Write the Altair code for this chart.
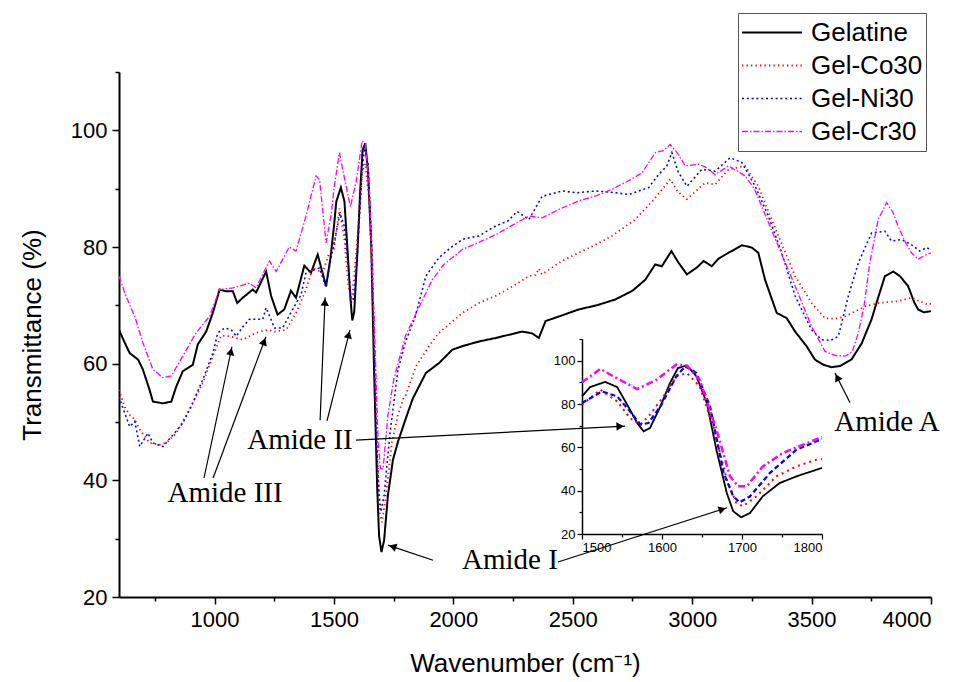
import math
import altair as alt
import pandas as pd

# ---------------- data ----------------
names = ["Gelatine", "Gel-Co30", "Gel-Ni30", "Gel-Cr30"]
colors = ["#000000", "#ff0000", "#0000ff", "#ff00ff"]

gel_wn = [600, 624, 645, 680, 700, 728, 742, 784, 819, 840, 867, 909, 930, 965, 993, 1021, 1049, 1077, 1095,
          1118, 1160, 1174, 1216, 1237, 1264, 1292, 1320, 1341, 1376, 1404, 1432, 1467, 1485,
          1500, 1510, 1529, 1544, 1560, 1569, 1577, 1585, 1598, 1610, 1620, 1631, 1643, 1656, 1668, 1681,
          1689, 1699, 1710, 1726, 1747, 1768, 1800,
          1830, 1885, 1940, 1996, 2038, 2107, 2177, 2288, 2330, 2358, 2386, 2450, 2525, 2600, 2678, 2750,
          2804, 2845, 2873, 2913, 2943, 2978, 3020, 3048, 3082, 3110, 3152, 3208, 3250, 3277, 3305, 3354,
          3396, 3431, 3479, 3514, 3550, 3584, 3620, 3667, 3710, 3751, 3780, 3807, 3842, 3870, 3904, 3930,
          3946, 3970, 4000]
gel_t = [65.8, 63.6, 61.8, 60.7, 59.0, 55.5, 53.5, 53.2, 53.5, 56.1, 58.7, 59.8, 63.3, 65.5, 68.7, 72.7, 72.4,
         72.4, 70.4, 71.3, 72.7, 72.2, 75.8, 71.6, 68.4, 69.3, 72.5, 71.3, 76.8, 75.6, 78.7, 73.3, 78.0,
         83.5, 87.8, 90.2, 87.8, 77.4, 71.2, 67.4, 68.9, 78.9, 89.7, 96.6, 97.8, 92.8, 80.5, 58.9, 38.9,
         30.5, 27.7, 29.7, 37.4, 43.5, 46.6, 50.5,
         54.0, 58.4, 60.1, 62.4, 63.0, 63.8, 64.4, 65.5, 65.2, 64.4, 67.3, 68.2, 69.3, 70.0, 71.0, 72.5,
         74.4, 77.0, 76.7, 79.3, 77.3, 75.3, 76.5, 77.6, 76.7, 78.0, 79.0, 80.3, 79.9, 79.0, 74.4, 68.7,
         67.8, 65.5, 63.0, 60.7, 59.8, 59.4, 59.6, 60.7, 63.5, 67.6, 71.5, 75.0, 75.8, 75.0, 73.3, 70.5,
         69.3, 68.8, 69.0]

co_wn = [600, 625, 645, 665, 687, 728, 770, 800, 840, 895, 951, 993, 1028, 1063, 1118, 1174, 1223, 1251,
         1300, 1341, 1383, 1411, 1453, 1480,
         1500, 1523, 1544, 1560, 1573, 1585, 1602, 1618, 1631, 1647, 1664, 1681, 1693, 1701, 1718, 1743,
         1768, 1793, 1800,
         1843, 1898, 1940, 2038, 2107, 2177, 2250, 2316, 2345, 2358, 2370, 2450, 2525, 2600, 2664, 2761,
         2845, 2908, 2940, 2978, 3054, 3096, 3152, 3222, 3277, 3320, 3361, 3431, 3500, 3556, 3600, 3640,
         3723, 3779, 3862, 3918, 3988, 4000]
co_t = [55.5, 52.5, 51.2, 50.5, 48.7, 46.4, 46.1, 46.5, 48.1, 52.1, 56.7, 61.3, 64.8, 64.7, 64.1, 65.3,
        65.8, 65.5, 65.8, 68.7, 72.7, 76.4, 75.6, 79.0,
        79.7, 86.6, 81.2, 73.5, 70.5, 75.1, 83.5, 92.8, 94.3, 88.2, 69.7, 45.1, 34.3, 32.8, 37.4, 46.6,
        51.2, 54.3, 54.5,
        59.5, 63.0, 65.3, 68.7, 70.4, 71.6, 73.3, 75.0, 75.2, 76.3, 75.3, 77.5, 79.0, 80.5, 81.9, 84.7,
        88.4, 91.6, 89.5, 88.2, 91.0, 90.7, 93.3, 93.9, 90.4, 86.0, 81.9, 75.0, 70.4, 67.8, 67.7, 68.1,
        69.8, 70.4, 70.7, 71.3, 70.1, 70.3]

ni_wn = [600, 624, 645, 666, 687, 705, 721, 742, 784, 826, 867, 909, 951, 993, 1014, 1042, 1070, 1091, 1118,
         1146, 1202, 1216, 1251, 1285, 1327, 1362, 1383, 1439, 1467, 1485,
         1500, 1525, 1544, 1560, 1573, 1583, 1598, 1618, 1629, 1643, 1660, 1677, 1689, 1697, 1710, 1735,
         1768, 1800,
         1840, 1885, 1940, 1996, 2038, 2107, 2177, 2230, 2267, 2316, 2372, 2455, 2520, 2594, 2660, 2735,
         2818, 2859, 2894, 2915, 2940, 2978, 3040, 3096, 3159, 3208, 3264, 3319, 3375, 3431, 3500, 3542,
         3580, 3612, 3654, 3696, 3751, 3807, 3835, 3876, 3918, 3953, 3981, 4000]
ni_t = [54.3, 51.5, 49.2, 50.1, 45.8, 47.0, 48.1, 46.4, 45.8, 47.8, 49.8, 53.3, 57.3, 61.8, 65.3, 66.1, 65.8,
        64.7, 66.3, 67.6, 67.6, 69.6, 66.1, 66.1, 69.3, 71.8, 75.6, 76.4, 73.0, 77.5,
        80.5, 85.8, 83.5, 76.6, 70.5, 71.2, 78.9, 92.8, 97.4, 94.3, 78.9, 48.2, 37.4, 34.6, 37.4, 48.2,
        58.9, 63.8,
        68.0, 75.0, 78.2, 80.1, 81.3, 81.9, 83.6, 84.5, 86.1, 84.7, 88.7, 89.6, 89.3, 89.6, 89.4, 89.0,
        90.2, 92.4, 93.9, 96.2, 93.0, 90.4, 93.3, 93.0, 95.3, 94.5, 90.4, 85.3, 79.0, 71.6, 65.8, 64.1,
        64.0, 64.7, 71.6, 77.3, 82.4, 82.7, 81.0, 81.3, 80.4, 79.3, 79.9, 79.5]

cr_wn = [600, 630, 666, 700, 742, 784, 819, 867, 923, 979, 1021, 1077, 1146, 1174, 1216, 1230, 1258, 1313,
         1341, 1383, 1425, 1440, 1467, 1490,
         1500, 1523, 1539, 1569, 1593, 1618, 1631, 1647, 1668, 1685, 1695, 1706, 1726, 1751, 1800,
         1860, 1912, 1960, 2038, 2107, 2177, 2250, 2316, 2372, 2450, 2525, 2600, 2664, 2740, 2790, 2846,
         2880, 2908, 2940, 2971, 3027, 3060, 3096, 3152, 3222, 3260, 3291, 3361, 3431, 3500, 3556, 3600,
         3640, 3670, 3696, 3720, 3744, 3779, 3814, 3840, 3862, 3890, 3918, 3946, 3981, 4000]
cr_t = [75.0, 71.5, 68.1, 63.6, 59.0, 57.6, 57.9, 61.3, 65.3, 68.1, 72.7, 73.0, 73.8, 73.0, 76.5, 77.6, 75.8,
        80.0, 79.3, 85.3, 92.2, 91.5, 80.7, 86.0,
        90.0, 96.2, 92.8, 86.9, 91.2, 98.2, 97.7, 91.2, 68.2, 46.6, 42.0, 42.0, 51.2, 57.4, 64.8,
        70.0, 74.4, 77.0, 79.6, 80.8, 82.1, 83.8, 85.3, 85.0, 86.6, 87.9, 88.8, 89.9, 91.5, 92.7, 96.2,
        96.5, 97.6, 96.0, 93.9, 94.2, 93.6, 92.4, 93.9, 92.2, 90.0, 87.0, 80.1, 73.3, 66.4, 62.1, 61.4,
        61.3, 62.0, 65.3, 70.0, 77.3, 84.7, 87.6, 86.0, 83.6, 81.0, 79.0, 77.9, 78.7, 79.0]

# annotations (data coordinates of the main plot)
ann_labels = ["Amide III", "Amide II", "Amide I", "Amide A"]
ann_x = [1044, 1358, 2237, 3816]
ann_y = [37.8, 46.9, 26.3, 50.0]

arrow_x1 = [956, 994, 1442, 1471, 1592, 1915, 2438, 3661]
arrow_y1 = [40.4, 40.4, 50.3, 50.2, 46.9, 26.3, 26.0, 53.3]
arrow_x2 = [1073, 1215, 1463, 1567, 2719, 1726, 3146, 3598]
arrow_y2 = [62.9, 64.6, 71.4, 65.8, 49.3, 28.9, 35.3, 58.4]

# ---------------- tables ----------------
series = [(names[0], gel_wn, gel_t), (names[1], co_wn, co_t), (names[2], ni_wn, ni_t), (names[3], cr_wn, cr_t)]
rows = []
for nm, wn, tt in series:
    for a, b in zip(wn, tt):
        rows.append({"series": nm, "wn": a, "t": b})
df = pd.DataFrame(rows)
inset_df = df[(df.wn >= 1500) & (df.wn <= 1800)]

W, H = 812, 525
XD, YD = [600, 4000], [20, 110]
kx = W / (XD[1] - XD[0])
ky = H / (YD[1] - YD[0])

arr_rows = []
for x1, y1, x2, y2 in zip(arrow_x1, arrow_y1, arrow_x2, arrow_y2):
    dxp = (x2 - x1) * kx
    dyp = -(y2 - y1) * ky
    L = math.hypot(dxp, dyp)
    ang = math.degrees(math.atan2(dxp, -dyp)) % 360
    back = 5.0
    hx = x2 - dxp / L * back / kx
    hy = y2 + dyp / L * back / ky
    arr_rows.append({"wn": x1, "t": y1, "wn2": x2, "t2": y2, "hx": hx, "hy": hy, "ang": ang})
arr_df = pd.DataFrame(arr_rows)
ann_df = pd.DataFrame({"label": ann_labels, "wn": ann_x, "t": ann_y})

SANS = "Liberation Sans"
SERIF = "Liberation Serif"

leg = alt.Legend(title=None, orient="none", legendX=619, legendY=-59, symbolType="stroke",
                 symbolSize=3600, symbolStrokeWidth=2, labelFontSize=26, labelFont=SANS,
                 labelColor="black", strokeColor="#555555", fillColor="white", padding=3,
                 rowPadding=0, clipHeight=33, labelOffset=8, labelLimit=300)

color = alt.Color("series:N", scale=alt.Scale(domain=names, range=colors), legend=leg)
dash = alt.StrokeDash("series:N", scale=alt.Scale(domain=names, range=[[1, 0], [1.3, 3.2], [2, 2.8], [6, 2, 1.5, 2]]), legend=leg)
width = alt.StrokeWidth("series:N", scale=alt.Scale(domain=names, range=[2, 1.3, 2.3, 2.4]), legend=None)

XTITLE = "Wavenumber (cm⁻¹)"
YTITLE = "Transmittance (%)"
x_main = alt.X("wn:Q", scale=alt.Scale(domain=XD, nice=False, zero=False), title=XTITLE,
               axis=alt.Axis(values=[750, 1000, 1250, 1500, 1750, 2000, 2250, 2500, 2750, 3000, 3250, 3500, 3750, 4000],
                             format="d", labelExpr="datum.value % 500 === 0 ? datum.label : ''",
                             tickSize={"condition": {"test": "datum.value % 500 === 0", "value": 7}, "value": 4},
                             grid=False, domainColor="black", domainWidth=2, tickColor="black", tickWidth=1.5,
                             labelFont=SANS, labelFontSize=22, labelColor="black", labelPadding=5,
                             titleFont=SANS, titleFontSize=26, titleFontWeight="normal",
                             titleColor="black", titlePadding=20, labelOverlap=False))
y_main = alt.Y("t:Q", scale=alt.Scale(domain=YD, nice=False, zero=False), title=YTITLE,
               axis=alt.Axis(values=[20, 30, 40, 50, 60, 70, 80, 90, 100, 110],
                             labelExpr="datum.value % 20 === 0 ? datum.label : ''",
                             tickSize={"condition": {"test": "datum.value % 20 === 0", "value": 7}, "value": 4},
                             grid=False, domainColor="black", domainWidth=2, tickColor="black", tickWidth=1.5,
                             labelFont=SANS, labelFontSize=22, labelColor="black", labelPadding=5,
                             titleFont=SANS, titleFontSize=26, titleFontWeight="normal",
                             titleColor="black", titlePadding=25, labelOverlap=False))

main_lines = alt.Chart(df).mark_line(clip=True).encode(x=x_main, y=y_main, color=color, strokeDash=dash,
                                                      strokeWidth=width, order=alt.Order("wn:Q"))

arrows = alt.Chart(arr_df).mark_rule(color="black", strokeWidth=1.2).encode(
    x=alt.X("wn:Q", title=XTITLE), y=alt.Y("t:Q", title=YTITLE), x2="wn2:Q", y2="t2:Q")
heads = alt.Chart(arr_df).mark_point(shape="triangle-up", filled=True, color="black", opacity=1, size=70).encode(
    x=alt.X("hx:Q", title=XTITLE), y=alt.Y("hy:Q", title=YTITLE), angle=alt.Angle("ang:Q", scale=None))
texts = alt.Chart(ann_df).mark_text(font=SERIF, fontSize=29, color="black", baseline="middle", align="center").encode(
    x=alt.X("wn:Q", title=XTITLE), y=alt.Y("t:Q", title=YTITLE), text="label:N")

main = alt.layer(main_lines, arrows, heads, texts)

# ---------------- inset ----------------
IX0, IX1 = 463, 703
IY0, IY1 = 462, 267
x_in = alt.X("wn:Q", scale=alt.Scale(domain=[1500, 1800], range=[IX0, IX1], nice=False, zero=False),
             axis=alt.Axis(orient="bottom", offset=-(H - IY0), values=[1500, 1550, 1600, 1650, 1700, 1750, 1800],
                           format="d", labelExpr="datum.value % 100 === 0 ? datum.label : ''",
                           tickSize={"condition": {"test": "datum.value % 100 === 0", "value": 5}, "value": 3},
                           grid=False, domainColor="black", domainWidth=1.5, tickColor="black", tickWidth=1.2,
                           labelFont=SANS, labelFontSize=13, labelColor="black", labelPadding=2, title=None,
                           labelOverlap=False))
y_in = alt.Y("t:Q", scale=alt.Scale(domain=[20, 110], range=[IY0, IY1], nice=False, zero=False),
             axis=alt.Axis(orient="left", offset=-IX0, values=[20, 30, 40, 50, 60, 70, 80, 90, 100, 110],
                           labelExpr="datum.value % 20 === 0 ? datum.label : ''",
                           tickSize={"condition": {"test": "datum.value % 20 === 0", "value": 5}, "value": 3},
                           grid=False, domainColor="black", domainWidth=1.5, tickColor="black", tickWidth=1.2,
                           labelFont=SANS, labelFontSize=13, labelColor="black", labelPadding=2, title=None,
                           labelOverlap=False))
in_dash = alt.StrokeDash("series:N", scale=alt.Scale(domain=names, range=[[1, 0], [2, 4], [5, 3], [7, 3, 2, 3]]), legend=None)
in_width = alt.StrokeWidth("series:N", scale=alt.Scale(domain=names, range=[1.8, 2.5, 2.2, 2.0]), legend=None)
inset = alt.Chart(inset_df).mark_line().encode(
    x=x_in, y=y_in, color=alt.Color("series:N", scale=alt.Scale(domain=names, range=colors), legend=None),
    strokeDash=in_dash, strokeWidth=in_width, order=alt.Order("wn:Q"))

chart = alt.layer(main, inset).resolve_scale(
    x="independent", y="independent", color="independent",
    strokeDash="independent", strokeWidth="independent"
).properties(
    width=W, height=H,
    padding={"left": 119, "top": 72, "right": 27, "bottom": 85},
    autosize=alt.AutoSizeParams(type="none"),
    background="white",
).configure_view(stroke=None)

chart.save("out.html", embed_options={"renderer": "svg", "actions": False})
